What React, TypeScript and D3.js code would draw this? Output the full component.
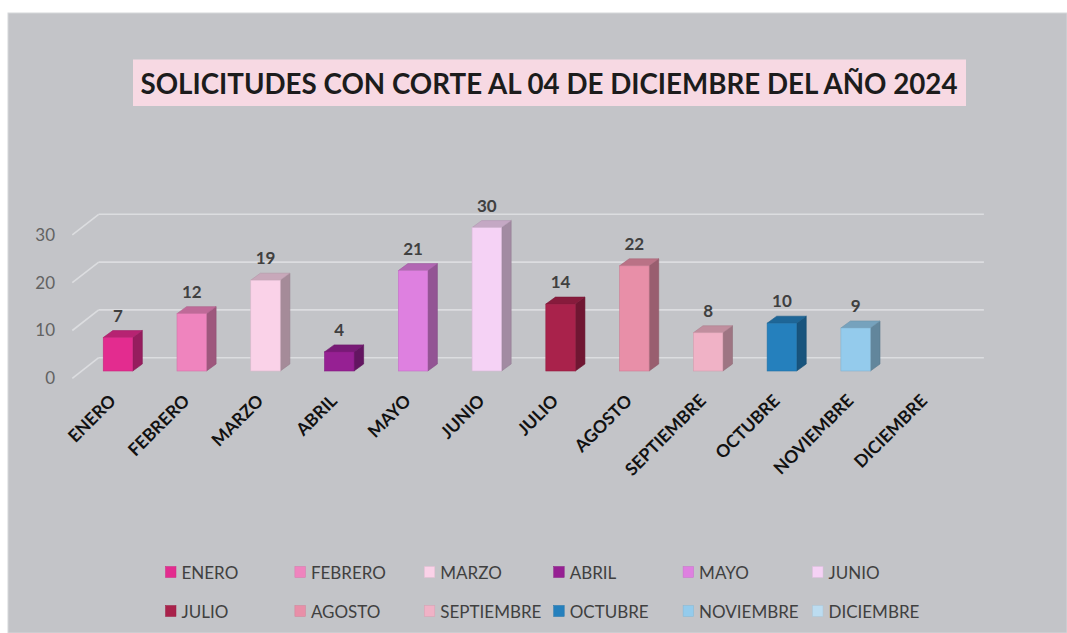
import React from "react";
import * as d3 from "d3";

const months = [
  "ENERO", "FEBRERO", "MARZO", "ABRIL", "MAYO", "JUNIO",
  "JULIO", "AGOSTO", "SEPTIEMBRE", "OCTUBRE", "NOVIEMBRE", "DICIEMBRE",
];
const solicitudes: (number | null)[] = [7, 12, 19, 4, 21, 30, 14, 22, 8, 10, 9, null];
const monthColors = [
  "#e32c8f", "#ef84be", "#fad2e8", "#962093", "#de80e0", "#f5d2f5",
  "#a9224b", "#e88fa8", "#f0b2c6", "#2580bd", "#94cbec", "#bcdcf0",
];
const yTicks = [0, 10, 20, 30];
const title = "SOLICITUDES CON CORTE AL 04 DE DICIEMBRE DEL AÑO 2024";

const W = 1067;
const H = 633;
const FONT = "Lato, 'Open Sans', sans-serif";

// 3d offsets: back wall and bar depth
const wallDx = 27.2;
const wallDy = -20.6;
const barDx = 9.6;
const barDy = -7.3;
const sideDx = 9.6;
const sideDy = -7;

const App: React.FC = () => {
  const x = d3.scaleBand<string>().domain(months).range([71.5, 956.7]).paddingInner(0.6).paddingOuter(0.3);
  const y = d3.scaleLinear().domain([0, 30]).range([378.3, 234.9]);
  const color = d3.scaleOrdinal<string, string>().domain(months).range(monthColors);
  const bw = x.bandwidth();

  const shade = (c: string, k: number) => {
    const rgb = d3.rgb(c);
    return d3.rgb(rgb.r * k, rgb.g * k, rgb.b * k).formatHex();
  };

  const legendCols = 6;
  const legendX = (i: number) => 165.5 + (i % legendCols) * 129.4;
  const legendY = (i: number) => (i < legendCols ? 566.5 : 605.5);

  return (
    <svg
      width={W}
      height={H}
      style={{ position: "absolute", left: 0, top: 0 }}
      fontFamily={FONT}
    >
      <rect x={0} y={0} width={W} height={H} fill="#ffffff" />
      <rect x={8} y={13} width={W - 8} height={H - 13} fill="#c3c4c8" stroke="#d6d7da" strokeWidth={1} />

      {/* title */}
      <rect x={133} y={59.5} width={833} height={46.5} fill="#f7d9e3" />
      <text
        x={140.5}
        y={94}
        fontSize={28}
        fontWeight={700}
        fill="#1c1c1c"
        textLength={817}
        lengthAdjust="spacingAndGlyphs"
      >
        {title}
      </text>

      {/* gridlines on back wall + left side */}
      {yTicks.map((t) => (
        <g key={t} stroke="#dcdde0" strokeWidth={1.6} fill="none">
          <line x1={x.range()[0] + wallDx} x2={x.range()[1] + wallDx} y1={y(t) + wallDy} y2={y(t) + wallDy} />
          <line x1={x.range()[0] + 0.8} x2={x.range()[0] + wallDx} y1={y(t)} y2={y(t) + wallDy} />
        </g>
      ))}

      {/* y tick labels */}
      {yTicks.map((t) => (
        <text key={t} x={55} y={y(t)} dy="0.35em" textAnchor="end" fontSize={17} fill="#626262">
          {t}
        </text>
      ))}

      {/* bars */}
      {months.map((m, i) => {
        const v = solicitudes[i];
        if (v == null) return null;
        const x0 = (x(m) as number) + barDx;
        const x1 = x0 + bw;
        const yb = y(0) + barDy;
        const yt = y(v) + barDy;
        const c = color(m);
        const side = `M${x1},${yb} L${x1 + sideDx},${yb + sideDy} L${x1 + sideDx},${yt + sideDy} L${x1},${yt} Z`;
        const top = `M${x0},${yt} L${x0 + sideDx},${yt + sideDy} L${x1 + sideDx},${yt + sideDy} L${x1},${yt} Z`;
        return (
          <g key={m}>
            <path d={side} fill={shade(c, 0.66)} stroke={shade(c, 0.6)} strokeWidth={0.6} />
            <path d={top} fill={shade(c, 0.8)} stroke={shade(c, 0.72)} strokeWidth={0.6} />
            <rect x={x0} y={yt} width={bw} height={yb - yt} fill={c} stroke={shade(c, 0.88)} strokeWidth={0.6} />
            <text
              x={x0 + bw / 2}
              y={yt - 16}
              textAnchor="middle"
              fontSize={17}
              fontWeight={700}
              fill="#404040"
            >
              {v}
            </text>
          </g>
        );
      })}

      {/* x labels */}
      {months.map((m) => {
        const cx = (x(m) as number) + barDx + bw / 2;
        return (
          <text
            key={m}
            transform={`translate(${cx - 1},${402}) rotate(-45)`}
            textAnchor="end"
            fontSize={17.5}
            fontWeight={700}
            fill="#111111"
          >
            {m}
          </text>
        );
      })}

      {/* legend */}
      {months.map((m, i) => (
        <g key={m} transform={`translate(${legendX(i)},${legendY(i)})`}>
          <rect x={0} y={0} width={10.5} height={11} fill={color(m)} stroke={shade(color(m), 0.9)} strokeWidth={0.5} />
          <text x={16} y={12} fontSize={17} fill="#404040">
            {m}
          </text>
        </g>
      ))}
    </svg>
  );
};

export default App;
